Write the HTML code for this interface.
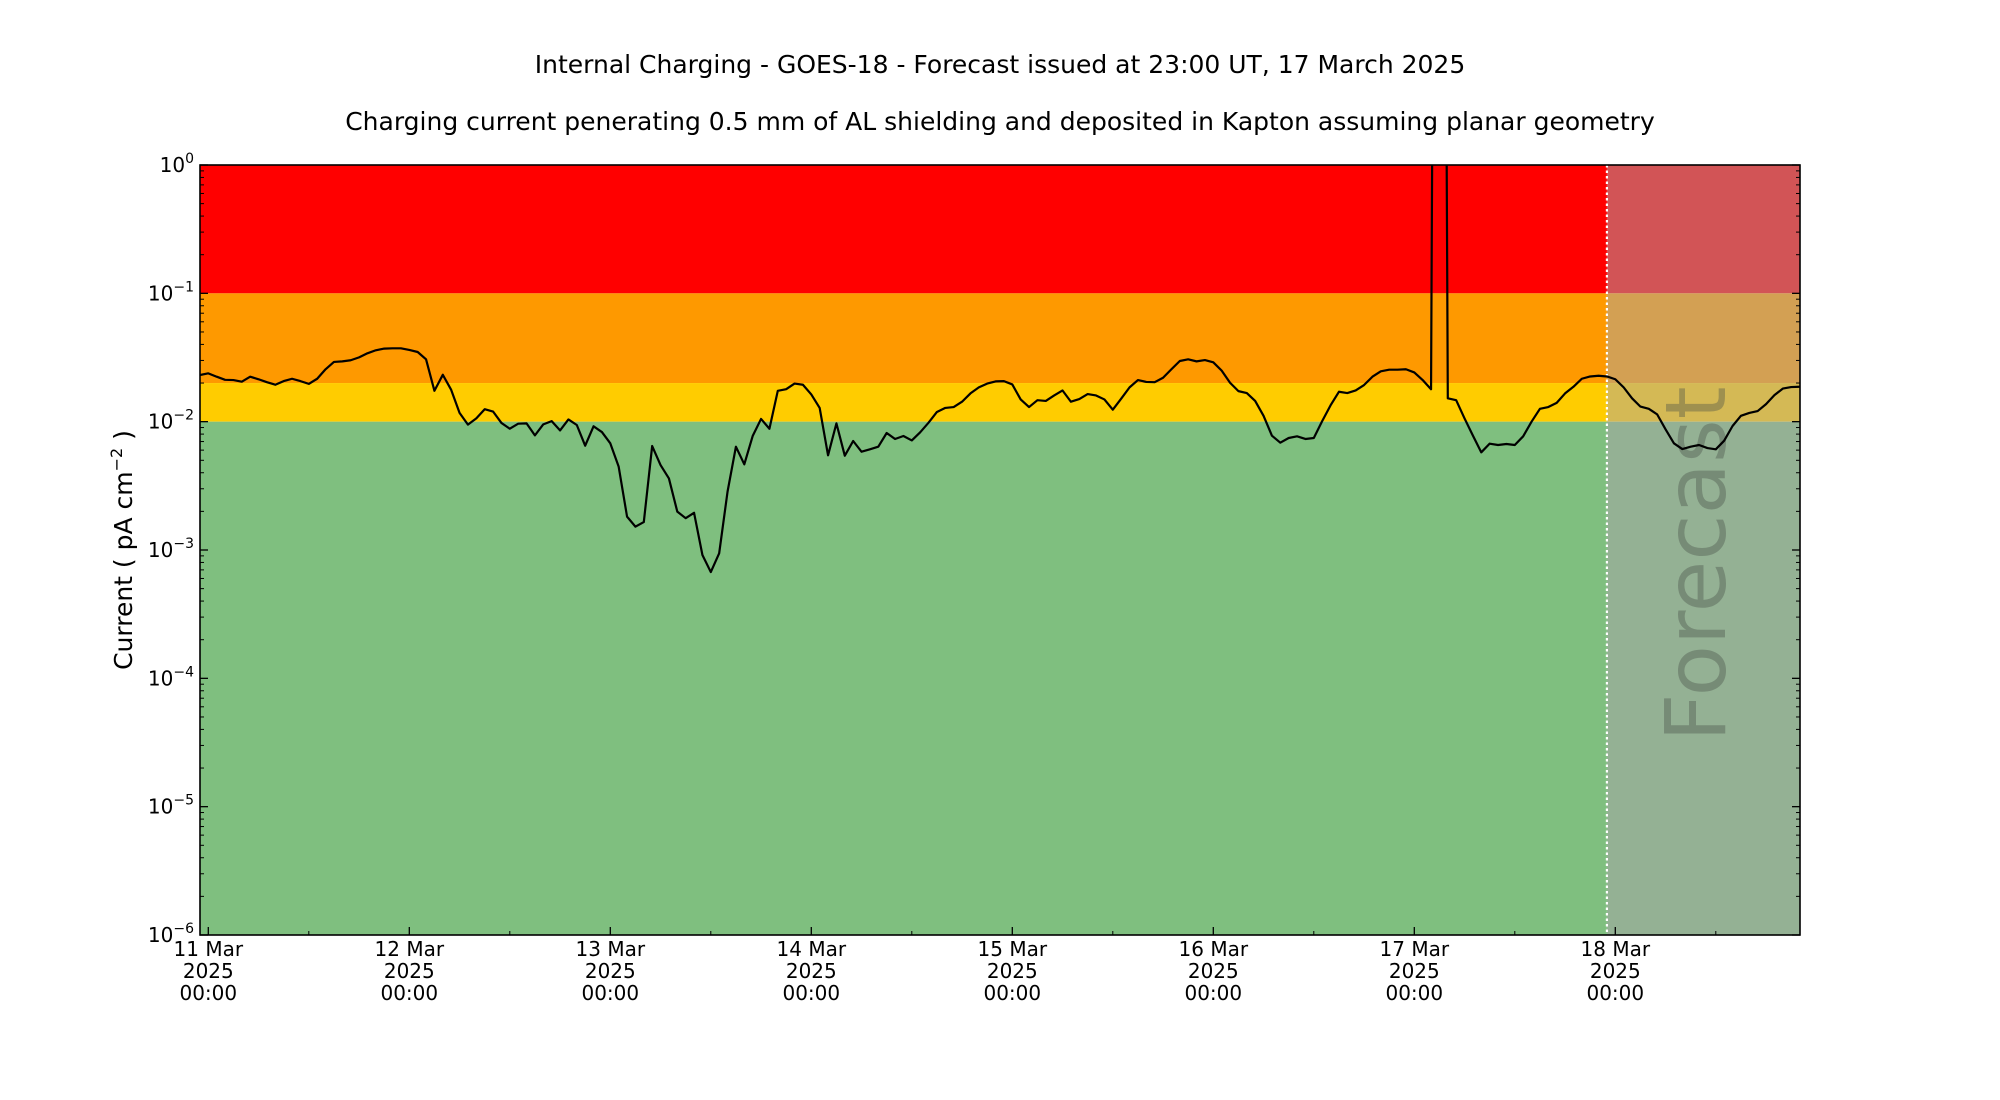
<!DOCTYPE html>
<html><head><meta charset="utf-8"><style>
html,body{margin:0;padding:0;background:#fff;}
svg{display:block;font-family:"DejaVu Sans","Liberation Sans",sans-serif;}
</style></head><body>
<svg id="chart" width="2000" height="1100" viewBox="0 0 2000 1100" xmlns="http://www.w3.org/2000/svg">
<text x="1000" y="73" font-size="25" text-anchor="middle">Internal Charging - GOES-18 - Forecast issued at 23:00 UT, 17 March 2025</text>
<text x="1000" y="130" font-size="25" text-anchor="middle">Charging current penerating 0.5 mm of AL shielding and deposited in Kapton assuming planar geometry</text>
<defs><clipPath id="plotclip"><rect x="200" y="165" width="1600" height="770"/></clipPath></defs>
<g id="bands"></g>
<g id="fc"></g>
<text x="0" y="0" font-size="84" fill="rgba(70,80,70,0.38)" text-anchor="middle" transform="translate(1725,564) rotate(-90)">Forecast</text>
<g id="series" clip-path="url(#plotclip)"></g>
<g id="axes"></g>
<text font-size="25" text-anchor="middle" transform="translate(132,550) rotate(-90)">Current ( pA cm<tspan font-size="16" dy="-10">−2</tspan><tspan dy="10"> )</tspan></text>
</svg>
<script>
const NS="http://www.w3.org/2000/svg";
const startHour=-1; // hours relative to 11 Mar 2025 00:00
const forecastHour=167;
const dayLabels=["11 Mar","12 Mar","13 Mar","14 Mar","15 Mar","16 Mar","17 Mar","18 Mar"];
const yearLabel="2025";
const timeLabel="00:00";
const yExponents=[0,-1,-2,-3,-4,-5,-6];
const bandLimits=[1,0.1,0.02,0.01,1e-6];
const currentValues=[
0.0231,0.0238,0.0224,0.0212,0.0211,0.0205,0.0224,0.0214,0.0203,0.0194,
0.0207,0.0216,0.0207,0.0197,0.0216,0.0256,0.0292,0.0295,0.0301,0.0317,
0.0341,0.0360,0.0371,0.0373,0.0373,0.0362,0.0349,0.0306,0.0174,0.0232,
0.0177,0.0117,0.00948,0.0106,0.0125,0.0120,0.00977,0.00881,0.00964,0.00970,
0.00782,0.00953,0.0101,0.00855,0.0104,0.00942,0.00650,0.00920,0.00830,0.00678,
0.00446,0.00182,0.00152,0.00165,0.00646,0.00459,0.00361,0.00199,0.00177,0.00195,
0.000914,0.000673,0.000942,0.00285,0.00638,0.00465,0.00773,0.0105,0.00881,0.0174,
0.0179,0.0198,0.0194,0.0163,0.0128,0.00547,0.00970,0.00543,0.00707,0.00583,
0.00609,0.00638,0.00816,0.00733,0.00773,0.00714,0.00826,0.00982,0.0119,0.0128,
0.0130,0.0143,0.0166,0.0185,0.0198,0.0206,0.0207,
0.0195,0.0149,0.0130,0.0147,0.0145,0.0160,0.0175,0.0143,0.0150,0.0164,
0.0160,0.0149,0.0124,0.0151,0.0185,0.0211,0.0204,0.0203,0.0220,0.0256,
0.0297,0.0306,0.0295,0.0302,0.0290,0.0250,0.0201,0.0173,0.0167,0.0145,
0.0111,0.00778,0.00686,0.00746,0.00769,0.00733,0.00746,0.0101,0.0134,0.0171,
0.0167,0.0175,0.0193,0.0224,0.0247,0.0254,0.0254,0.0256,
0.0242,0.0211,0.0179,1e12,0.0152,0.0147,0.0106,0.00778,0.00577,0.00674,
0.00658,0.00670,0.00658,0.00769,0.0100,0.0126,0.0130,0.0140,0.0166,0.0187,
0.0216,0.0225,0.0228,0.0225,0.0214,0.0185,0.0152,0.0131,0.0126,0.0114,
0.00872,0.00678,0.00612,0.00638,0.00658,0.00623,0.00609,0.00711,0.00925,0.0111,
0.0117,0.0121,0.0137,0.0161,0.0181,0.0186,0.0187];

const L=200,R=1800,T=165,B=935;
const X0=208.3, PXH=201/24;
function xs(h){return X0+h*PXH;}
function ys(v){return T+(-Math.log10(v))*((B-T)/6);}
function mk(tag,attrs,parent){const e=document.createElementNS(NS,tag);for(const k in attrs)e.setAttribute(k,attrs[k]);parent.appendChild(e);return e;}

const bandColors=["#ff0000","#fe9900","#ffcc00","#7fbf7f"];
const fcColors=["#d25456","#d3a053","#d4b955","#94b194"];
const bandNames=["band-red","band-orange","band-yellow","band-green"];
const gB=document.getElementById('bands'), gF=document.getElementById('fc');
const xf=xs(forecastHour);
for(let i=0;i<4;i++){
  const y1=ys(bandLimits[i]), y2=ys(bandLimits[i+1]);
  const r=mk('rect',{x:L,y:y1,width:xf-L,height:y2-y1,fill:bandColors[i]},gB);
  
  
  const f=mk('rect',{x:xf,y:y1,width:R-xf,height:y2-y1,fill:fcColors[i]},gF);
  
  
}
const fl=mk('line',{x1:xf,x2:xf,y1:T,y2:B,stroke:"#fff","stroke-width":2.2,"stroke-dasharray":"2.5 3"},gF);



let d="";
currentValues.forEach((v,i)=>{const x=xs(startHour+i), y=Math.max(-5000,ys(v));d+=(i?"L":"M")+x.toFixed(2)+" "+y.toFixed(2);});
const p=mk('path',{d:d,fill:"none",stroke:"#000","stroke-width":2.2,"stroke-linejoin":"round"},document.getElementById('series'));



const gA=document.getElementById('axes');
const fr=mk('rect',{x:L,y:T,width:R-L,height:B-T,fill:"none",stroke:"#000","stroke-width":1.6},gA);


yExponents.forEach(e=>{
  const y=ys(Math.pow(10,e));
  mk('line',{x1:L,x2:L+8,y1:y,y2:y,stroke:"#000","stroke-width":1.3},gA);
  mk('line',{x1:R,x2:R-8,y1:y,y2:y,stroke:"#000","stroke-width":1.3},gA);
  const t=mk('text',{x:L-6,y:y+7,"font-size":20,"text-anchor":"end"},gA);
  
  
  const sup=(e===0)?"0":"−"+(-e);
  t.innerHTML='10<tspan font-size="14" dy="-9">'+sup+'</tspan>';
  if(e>-6){for(let m=2;m<=9;m++){const ym=ys(m*Math.pow(10,e-1));
    mk('line',{x1:L,x2:L+4,y1:ym,y2:ym,stroke:"#000","stroke-width":1},gA);
    mk('line',{x1:R,x2:R-4,y1:ym,y2:ym,stroke:"#000","stroke-width":1},gA);}}
});
dayLabels.forEach((lab,i)=>{
  const x=xs(i*24);
  mk('line',{x1:x,x2:x,y1:B,y2:B-8,stroke:"#000","stroke-width":1.3},gA);
  const xm=xs(i*24+12);
  if(xm<R) mk('line',{x1:xm,x2:xm,y1:B,y2:B-4,stroke:"#000","stroke-width":1},gA);
  [lab,yearLabel,timeLabel].forEach((s,j)=>{
    const t=mk('text',{x:x,y:B+21+j*22,"font-size":20,"text-anchor":"middle"},gA);
    
    
    t.textContent=s;
  });
});
</script>
</body></html>
